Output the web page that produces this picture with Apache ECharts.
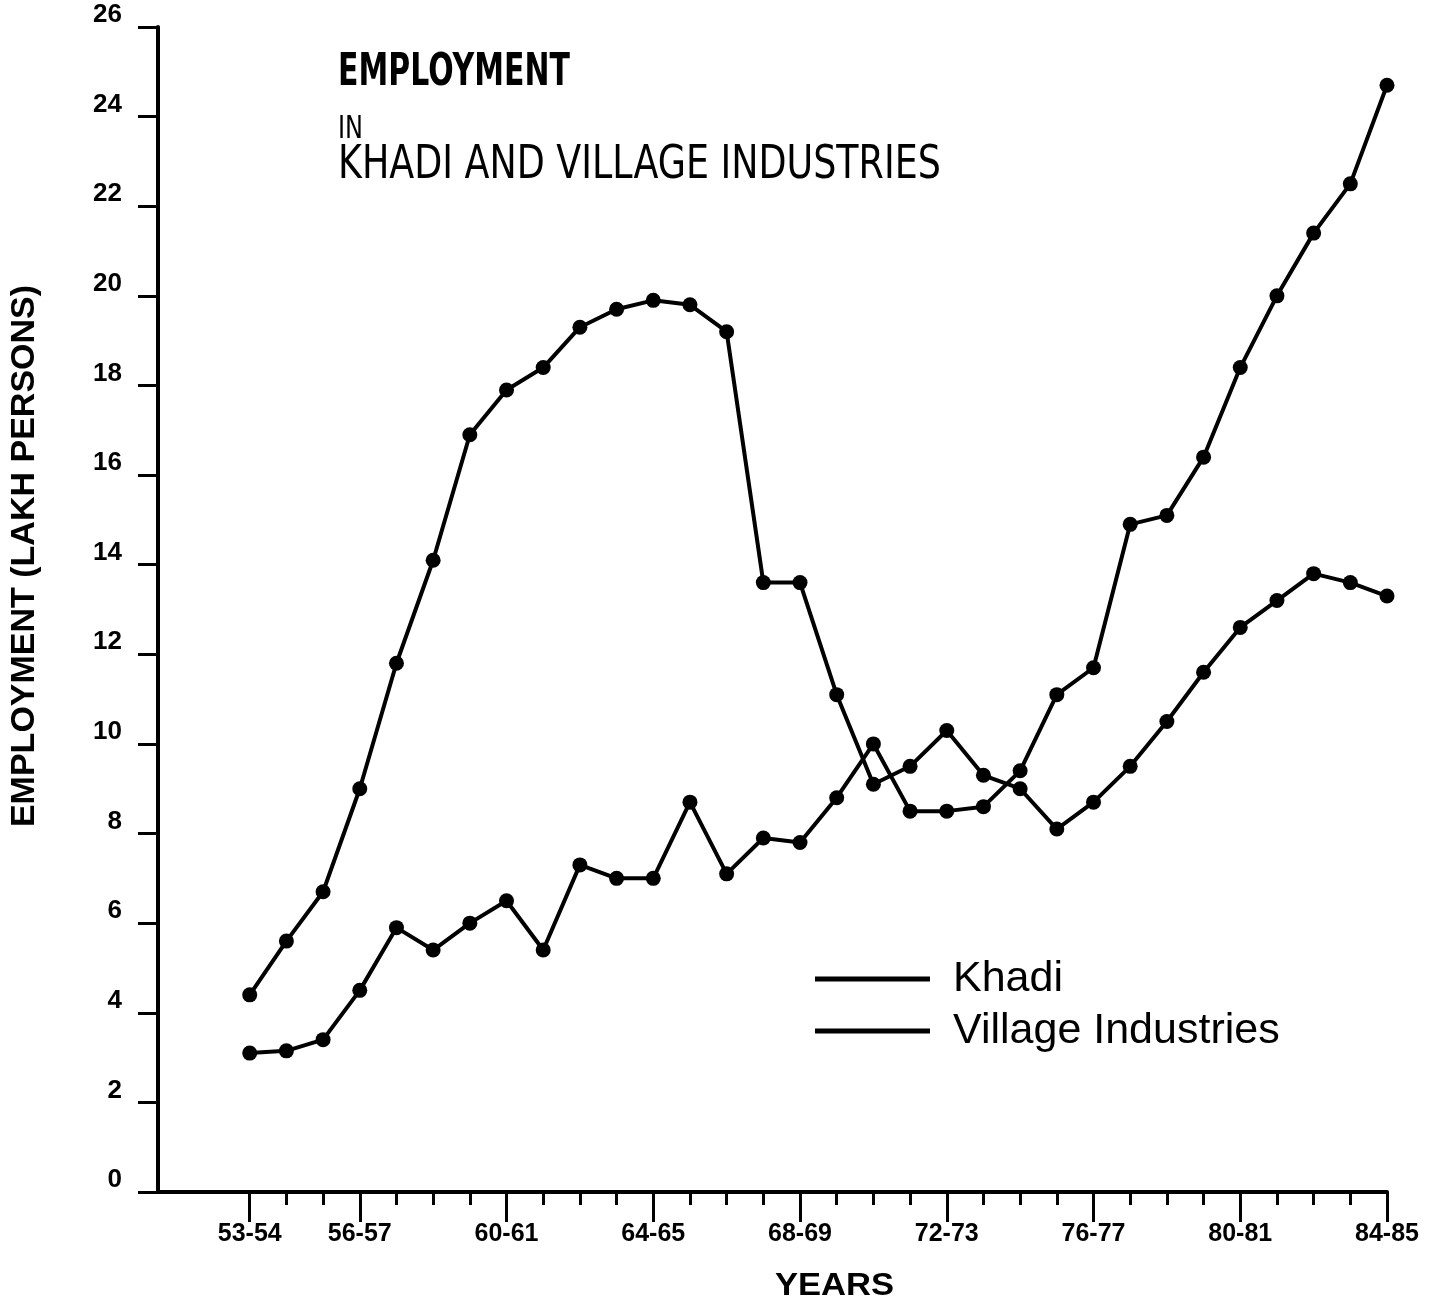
<!DOCTYPE html>
<html lang="en">

<head>
    <meta charset="UTF-8">
    <title>Employment in Khadi and Village Industries</title>
    <script src="https://cdn.jsdelivr.net/npm/echarts@6.0.0/dist/echarts.min.js"></script>
    <style>
        body { margin: 0; background: #fff; }
    </style>
</head>

<body>
    <div id="main" style="width: 1442px;height:1312px;"></div>
    <script type="text/javascript">
        // start year of each season, 53 = 1953-54 ... 84 = 1984-85
        const years = [53, 54, 55, 56, 57, 58, 59, 60, 61, 62, 63, 64, 65, 66, 67, 68,
            69, 70, 71, 72, 73, 74, 75, 76, 77, 78, 79, 80, 81, 82, 83, 84];
        // employment, lakh persons
        const khadi = [4.4, 5.6, 6.7, 9.0, 11.8, 14.1, 16.9, 17.9, 18.4, 19.3, 19.7, 19.9, 19.8, 19.2, 13.6, 13.6,
            11.1, 9.1, 9.5, 10.3, 9.3, 9.0, 8.1, 8.7, 9.5, 10.5, 11.6, 12.6, 13.2, 13.8, 13.6, 13.3];
        const village = [3.1, 3.15, 3.4, 4.5, 5.9, 5.4, 6.0, 6.5, 5.4, 7.3, 7.0, 7.0, 8.7, 7.1, 7.9, 7.8,
            8.8, 10.0, 8.5, 8.5, 8.6, 9.4, 11.1, 11.7, 14.9, 15.1, 16.4, 18.4, 20.0, 21.4, 22.5, 24.7];
        // labelled (long) ticks on the year axis
        const labelYears = [53, 56, 60, 64, 68, 72, 76, 80, 84];
        const yTicks = { min: 0, max: 26, step: 2 };

        const pair = (arr) => years.map((y, i) => [y, arr[i]]);
        const seasonLabel = (v) => {
            const a = Math.round(v);
            return a + '-' + (a + 1);
        };

        const dejavu = '"DejaVu Sans", sans-serif';
        const sans = '"Liberation Sans", Arial, Helvetica, sans-serif';

        const lineSeries = (name, arr) => ({
            name: name,
            type: 'line',
            data: pair(arr),
            symbol: 'circle',
            symbolSize: 15,
            itemStyle: { color: '#000' },
            lineStyle: { color: '#000', width: 4 },
            emphasis: { disabled: true },
            animation: false
        });

        let options = {
            backgroundColor: '#fff',
            animation: false,
            grid: { left: 158, right: 55, top: 27, bottom: 120 },
            legend: {
                orient: 'vertical',
                left: 810,
                top: 952,
                icon: 'rect',
                itemWidth: 115,
                itemHeight: 5,
                itemGap: 8,
                data: ['Khadi', 'Village Industries'],
                textStyle: {
                    fontFamily: sans,
                    fontSize: 43,
                    lineHeight: 44,
                    color: '#000',
                    padding: [0, 0, 0, 18]
                }
            },
            xAxis: [{
                type: 'value',
                min: 50.5,
                max: 84,
                position: 'bottom',
                splitLine: { show: false },
                axisLine: { lineStyle: { color: '#000', width: 4 } },
                axisTick: { customValues: labelYears, length: 30, lineStyle: { color: '#000', width: 3 } },
                axisLabel: {
                    customValues: labelYears,
                    formatter: seasonLabel,
                    margin: 30,
                    fontFamily: sans,
                    fontWeight: 'bold',
                    fontSize: 25,
                    color: '#000'
                }
            }, {
                type: 'value',
                min: 50.5,
                max: 84,
                position: 'bottom',
                splitLine: { show: false },
                axisLine: { show: false },
                axisTick: { customValues: years, length: 13, lineStyle: { color: '#000', width: 3 } },
                axisLabel: { show: false }
            }],
            yAxis: {
                type: 'value',
                min: yTicks.min,
                max: yTicks.max,
                interval: yTicks.step,
                splitLine: { show: false },
                axisLine: { show: true, lineStyle: { color: '#000', width: 4 } },
                axisTick: { show: true, length: 20, lineStyle: { color: '#000', width: 3 } },
                axisLabel: {
                    margin: 36,
                    fontFamily: sans,
                    fontWeight: 'bold',
                    fontSize: 26,
                    color: '#000',
                    verticalAlign: 'bottom',
                    lineHeight: 24
                }
            },
            graphic: [
                {
                    type: 'text', x: 338, y: 52, scaleX: 0.68,
                    style: { text: 'EMPLOYMENT', font: 'bold 44px ' + dejavu, fill: '#000' }
                },
                {
                    type: 'text', x: 338, y: 114, scaleX: 0.75,
                    style: { text: 'IN', font: '32px ' + dejavu, fill: '#000' }
                },
                {
                    type: 'text', x: 338, y: 142, scaleX: 0.775,
                    style: { text: 'KHADI AND VILLAGE INDUSTRIES', font: '47px ' + dejavu, fill: '#000' }
                },
                {
                    type: 'text', x: 775, y: 1270, scaleX: 1.08,
                    style: { text: 'YEARS', font: 'bold 32px ' + sans, fill: '#000' }
                },
                {
                    type: 'text', x: 25, y: 556, rotation: Math.PI / 2,
                    style: {
                        text: 'EMPLOYMENT (LAKH PERSONS)', font: 'bold 34px ' + sans, fill: '#000',
                        align: 'center', verticalAlign: 'middle'
                    }
                }
            ],
            series: [
                lineSeries('Khadi', khadi),
                lineSeries('Village Industries', village)
            ]
        };

        let myChart = echarts.init(document.getElementById('main'), null, { renderer: 'canvas' });
        myChart.setOption(options);
    </script>
</body>

</html>
